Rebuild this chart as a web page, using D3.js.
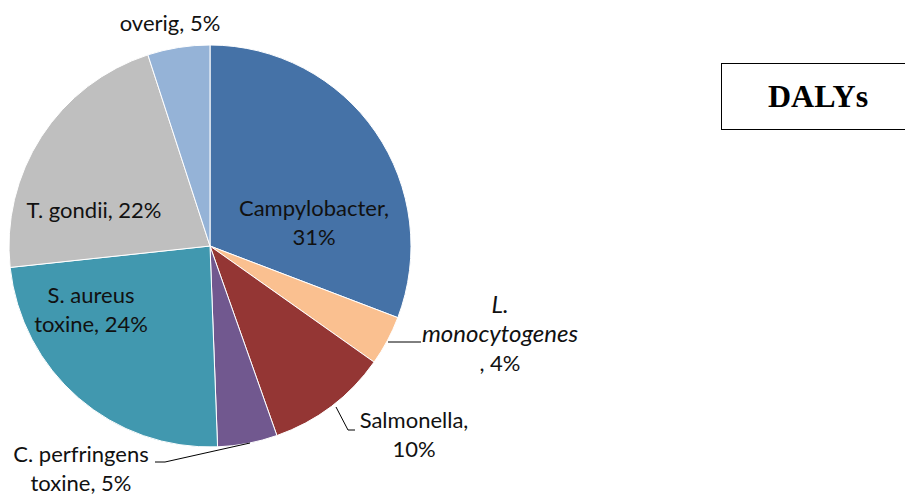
<!DOCTYPE html>
<html>
<head>
<meta charset="utf-8">
<script src="https://cdn.jsdelivr.net/npm/d3@7"></script>
<style>
body { margin: 0px; background: white; }
</style>
</head>
<body>
<script>
//slices clockwise from 12 o'clock
var categories = ["Campylobacter", "L. monocytogenes", "Salmonella", "C. perfringens toxine", "S. aureus toxine", "T. gondii", "overig"] ;
var values = [30.8, 4.0, 9.8, 4.8, 23.9, 21.7, 5.0] ;
var colours = ["#4572a7", "#fac090", "#943634", "#71588f", "#4198af", "#bfbfbf", "#95b3d7"] ;

//label text lines (percent is appended from the data)
var label_lines = [
    ["Campylobacter,", "%"],
    ["L.", "monocytogenes", ", %"],
    ["Salmonella,", "%"],
    ["C. perfringens", "toxine, %"],
    ["S. aureus", "toxine, %"],
    ["T. gondii, %"],
    ["overig, %"]
] ;

function mainRenderer()
{
    var width = 905 ;
    var height = 495 ;
    var cx = 210, cy = 246, radius = 201 ;

    var svg = d3.select("body").append("svg")
	.attr("width", width)
	.attr("height", height) ;

    var total = d3.sum(values) ;
    var pie = d3.pie().sort(null).value(function(d) { return d ; }) ;
    var arcs = pie(values) ;
    var arc = d3.arc().innerRadius(0).outerRadius(radius) ;

    var g = svg.append("g")
	.attr("transform", "translate(" + cx + "," + cy + ")") ;

    g.selectAll("path.slice")
	.data(arcs)
	.enter().append("path")
	.attr("class", "slice")
	.attr("d", arc)
	.attr("fill", function(d, i) { return colours[i] ; })
	.attr("stroke", "white")
	.attr("stroke-width", 1) ;

    //label anchors (centre x, first baseline y) relative to page
    var anchors = [
	[314, 216], //Campylobacter
	[500, 313], //L. monocytogenes
	[414, 428], //Salmonella
	[81, 462],  //C. perfringens
	[91, 303],  //S. aureus
	[94, 218],  //T. gondii
	[170, 31]   //overig
    ] ;
    var line_height = 29 ;

    //leader lines: slice edge -> elbow -> label
    var leaders = [
	null,
	[[388, 342], [421, 342]],
	[[336, 407], [348, 430], [355, 430]],
	[[250, 443], [165, 462], [155, 462]],
	null, null, null
    ] ;

    var line = d3.line() ;
    leaders.forEach(function(pts) {
	if(pts == null)
	    return ;
	svg.append("path")
	    .attr("d", line(pts))
	    .attr("fill", "none")
	    .attr("stroke", "#000")
	    .attr("stroke-width", 1) ;
    }) ;

    arcs.forEach(function(a, i) {
	var pct = Math.round(100 * values[i] / total) ;
	var t = svg.append("text")
	    .attr("font-family", "Lato")
	    .attr("font-size", "22px")
	    .attr("fill", "#111")
	    .attr("text-anchor", "middle") ;
	label_lines[i].forEach(function(s, k) {
	    var tspan = t.append("tspan")
		.attr("x", anchors[i][0])
		.attr("y", anchors[i][1] + k*line_height)
		.text(s.replace("%", pct + "%")) ;
	    //species name is italic for L. monocytogenes
	    if(i == 1 && k < 2)
		tspan.attr("font-style", "italic").attr("font-size", "24px") ;
	}) ;
    }) ;

    //title box (runs off the right edge)
    svg.append("rect")
	.attr("x", 721.5)
	.attr("y", 63.5)
	.attr("width", 200)
	.attr("height", 66)
	.attr("fill", "white")
	.attr("stroke", "#000")
	.attr("stroke-width", 1) ;

    svg.append("text")
	.attr("x", 818)
	.attr("y", 107)
	.attr("font-family", "Liberation Serif")
	.attr("font-weight", "bold")
	.attr("font-size", "32px")
	.attr("text-anchor", "middle")
	.text("DALYs") ;
}

mainRenderer() ;
</script>
</body>
</html>
